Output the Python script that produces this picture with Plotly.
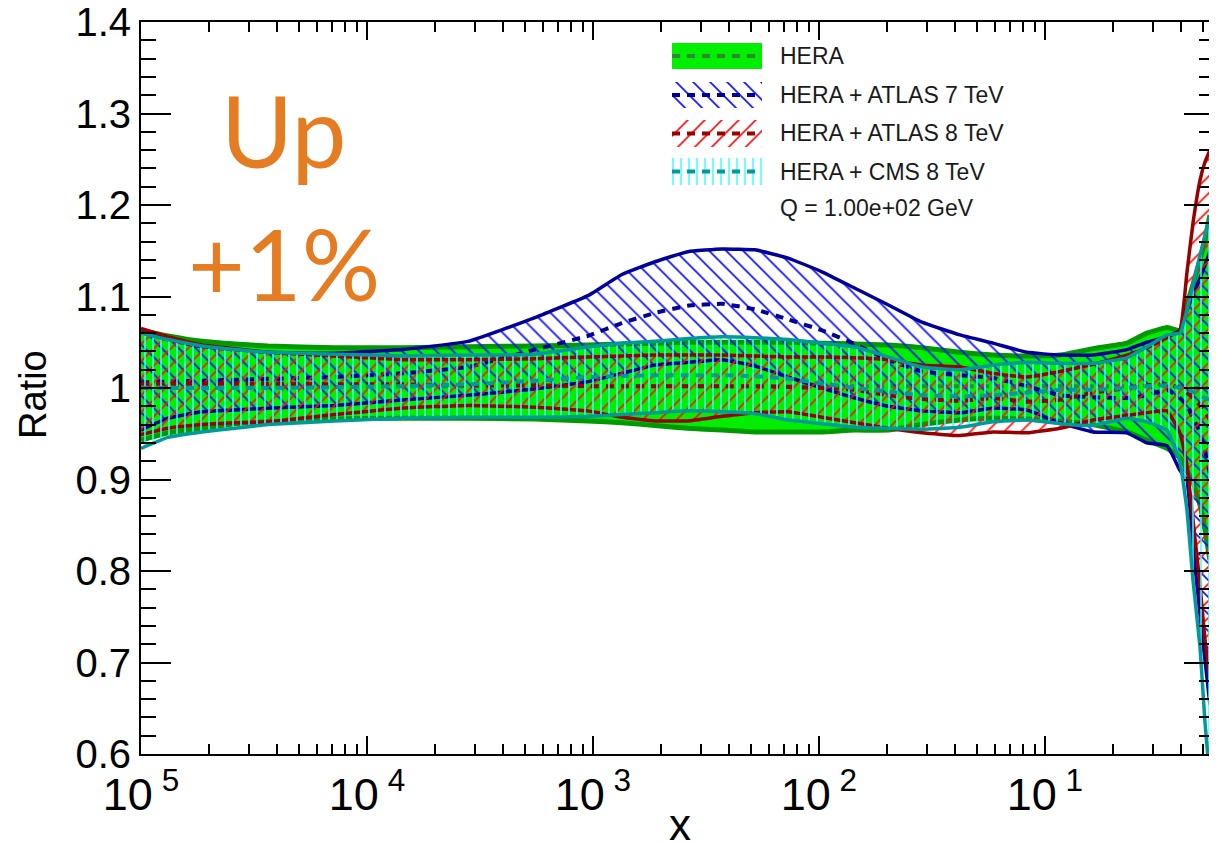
import plotly.graph_objects as go

# ---------------- data ----------------
x_vals = [1.0e-5, 1.316e-5, 1.862e-5, 2.606e-5, 3.648e-5, 7.21e-5, 1.428e-4, 2.80e-4, 5.54e-4,
          9.50e-4, 1.343e-3, 1.879e-3, 2.630e-3, 3.72e-3, 5.21e-3, 7.30e-3, 1.031e-2, 1.443e-2,
          2.02e-2, 2.855e-2, 4.21e-2, 5.89e-2, 8.32e-2, 0.1165, 0.1631, 0.2306, 0.2826, 0.3467,
          0.3956, 0.4248, 0.4518, 0.4853, 0.5105, 0.537]

hera_hi = [1.063, 1.057, 1.051, 1.048, 1.046, 1.044, 1.044, 1.045, 1.046, 1.047, 1.048, 1.049,
           1.050, 1.050, 1.050, 1.050, 1.049, 1.048, 1.047, 1.044, 1.039, 1.036, 1.035, 1.036,
           1.043, 1.049, 1.060, 1.066, 1.063, 1.091, 1.113, 1.140, 1.162, 1.189]
hera_c = [1.003, 1.003, 1.003, 1.002, 1.002, 1.002, 1.002, 1.002, 1.002, 1.002, 1.002, 1.002,
          1.002, 1.002, 1.002, 1.002, 1.002, 1.002, 1.002, 1.002, 1.002, 1.002, 1.002, 1.002,
          1.002, 1.002, 1.002, 1.002, 1.002, 1.001, 1.000, 1.000, 1.000, 1.000]
hera_lo = [0.943, 0.951, 0.956, 0.961, 0.963, 0.966, 0.967, 0.967, 0.966, 0.964, 0.962, 0.959,
           0.956, 0.954, 0.952, 0.952, 0.952, 0.954, 0.954, 0.960, 0.965, 0.967, 0.966, 0.964,
           0.960, 0.952, 0.943, 0.934, 0.924, 0.910, 0.897, 0.872, 0.845, 0.812]

atlas7_hi = [1.061, 1.053, 1.045, 1.042, 1.039, 1.038, 1.042, 1.051, 1.077, 1.101, 1.124, 1.138,
             1.149, 1.152, 1.151, 1.142, 1.127, 1.109, 1.091, 1.072, 1.058, 1.049, 1.039, 1.036,
             1.036, 1.042, 1.050, 1.056, 1.063, 1.085, 1.102, 1.120, 1.134, 1.149]
atlas7_c = [1.006, 1.007, 1.008, 1.009, 1.010, 1.012, 1.016, 1.023, 1.042, 1.057, 1.071, 1.082,
            1.090, 1.092, 1.086, 1.075, 1.063, 1.048, 1.031, 1.018, 1.014, 1.011, 1.002, 0.992,
            0.990, 0.989, 0.992, 0.998, 0.989, 0.981, 0.967, 0.952, 0.932, 0.905]
atlas7_lo = [0.954, 0.967, 0.974, 0.976, 0.978, 0.981, 0.987, 0.992, 0.999, 1.007, 1.016, 1.025,
             1.028, 1.031, 1.024, 1.012, 1.000, 0.989, 0.980, 0.975, 0.973, 0.978, 0.976, 0.962,
             0.952, 0.951, 0.940, 0.937, 0.910, 0.899, 0.828, 0.752, 0.703, 0.654]

atlas8_hi = [1.065, 1.056, 1.047, 1.043, 1.039, 1.035, 1.031, 1.031, 1.032, 1.034, 1.035, 1.036,
             1.036, 1.036, 1.035, 1.034, 1.034, 1.033, 1.031, 1.025, 1.023, 1.016, 1.012, 1.018,
             1.026, 1.036, 1.044, 1.055, 1.063, 1.126, 1.180, 1.227, 1.247, 1.260]
atlas8_c = [1.005, 1.005, 1.005, 1.005, 1.005, 1.004, 1.004, 1.003, 1.003, 1.002, 1.002, 1.002,
            1.002, 1.002, 1.002, 1.001, 1.000, 0.998, 0.992, 0.988, 0.986, 0.989, 0.985, 0.987,
            0.995, 1.000, 1.003, 1.004, 1.000, 0.995, 0.989, 0.981, 0.974, 0.965]
atlas8_lo = [0.949, 0.956, 0.960, 0.962, 0.963, 0.971, 0.978, 0.981, 0.979, 0.975, 0.968, 0.964,
             0.964, 0.969, 0.973, 0.974, 0.968, 0.962, 0.956, 0.951, 0.948, 0.952, 0.951, 0.956,
             0.965, 0.970, 0.973, 0.975, 0.951, 0.916, 0.856, 0.785, 0.725, 0.681]

cms8_hi = [1.060, 1.053, 1.046, 1.042, 1.039, 1.037, 1.035, 1.036, 1.037, 1.045, 1.049, 1.051,
           1.054, 1.056, 1.055, 1.053, 1.049, 1.045, 1.034, 1.023, 1.020, 1.025, 1.028, 1.027,
           1.027, 1.033, 1.045, 1.058, 1.060, 1.085, 1.113, 1.145, 1.167, 1.186]
cms8_c = [1.000, 1.000, 1.000, 1.000, 1.000, 1.001, 1.002, 1.004, 1.008, 1.012, 1.013, 1.014,
          1.014, 1.014, 1.013, 1.010, 1.005, 1.000, 0.996, 0.992, 0.991, 0.992, 0.995, 0.998,
          0.998, 1.000, 1.002, 1.003, 1.000, 0.998, 0.996, 0.992, 0.989, 0.987]
cms8_lo = [0.934, 0.946, 0.952, 0.956, 0.960, 0.964, 0.967, 0.968, 0.968, 0.969, 0.971, 0.973,
           0.975, 0.974, 0.972, 0.965, 0.961, 0.957, 0.956, 0.955, 0.957, 0.963, 0.965, 0.961,
           0.959, 0.967, 0.963, 0.954, 0.919, 0.867, 0.790, 0.717, 0.635, 0.570]

series_names = ["HERA", "HERA + ATLAS 7 TeV", "HERA + ATLAS 8 TeV", "HERA + CMS 8 TeV"]
x_tickvals = [1e-5, 1e-4, 1e-3, 1e-2, 1e-1]
x_ticktext = ["10<sup> 5</sup>", "10<sup> 4</sup>", "10<sup> 3</sup>", "10<sup> 2</sup>", "10<sup> 1</sup>"]
q_label = "Q = 1.00e+02 GeV"

# ---------------- styles ----------------
FONT = "Liberation Sans, Arial, Helvetica, sans-serif"
styles = [
    dict(edge="#009a00", lw=5, cdash="#2f8a2f", fill=dict(fillcolor="#00ee00")),
    dict(edge="#000099", lw=3.5, cdash="#000099",
         fill=dict(fillcolor="rgba(0,0,0,0)",
                   fillpattern=dict(shape="\\", fgcolor="#1010ff", bgcolor="rgba(0,0,0,0)",
                                    fgopacity=1, size=12, solidity=0.14))),
    dict(edge="#990000", lw=3.5, cdash="#990000",
         fill=dict(fillcolor="rgba(0,0,0,0)",
                   fillpattern=dict(shape="/", fgcolor="#ff1010", bgcolor="rgba(0,0,0,0)",
                                    fgopacity=1, size=12, solidity=0.14))),
    dict(edge="#009a9a", lw=3.5, cdash="#009a9a",
         fill=dict(fillcolor="rgba(0,0,0,0)",
                   fillpattern=dict(shape="|", fgcolor="#40ffff", bgcolor="rgba(0,0,0,0)",
                                    fgopacity=1, size=8, solidity=0.19))),
]
data_sets = [(hera_lo, hera_c, hera_hi), (atlas7_lo, atlas7_c, atlas7_hi),
             (atlas8_lo, atlas8_c, atlas8_hi), (cms8_lo, cms8_c, cms8_hi)]

SMOOTH = 0.35
fig = go.Figure()
for name, (lo, c, hi), st in zip(series_names, data_sets, styles):
    fig.add_trace(go.Scatter(x=x_vals, y=lo, mode="lines", name=name, showlegend=False,
                             line=dict(color=st["edge"], width=st["lw"], shape="spline",
                                       smoothing=SMOOTH), hoverinfo="skip"))
    fig.add_trace(go.Scatter(x=x_vals, y=hi, mode="lines", name=name, showlegend=False,
                             fill="tonexty", line=dict(color=st["edge"], width=st["lw"],
                                                       shape="spline", smoothing=SMOOTH),
                             hoverinfo="skip", **st["fill"]))
    fig.add_trace(go.Scatter(x=x_vals, y=c, mode="lines", name=name, showlegend=False,
                             line=dict(color=st["cdash"], width=4, dash="8px,7px",
                                       shape="spline", smoothing=SMOOTH),
                             hoverinfo="skip"))

# ---------------- page geometry (page body has an 8px margin) ----------------
OFF = 8
W, H = 1217 - OFF, 843 - OFF
PX_L, PX_R, PX_T, PX_B = 141 - OFF, 1214 - OFF, 22 - OFF, 754 - OFF


def px_x(p):
    return (p - OFF - PX_L) / (PX_R - PX_L)


def px_y(p):
    return (PX_B - (p - OFF)) / (PX_B - PX_T)


# ---------------- legend drawn in pixel space on hidden overlay axes ----------------
sw_x0, sw_x1 = 672 - OFF, 762 - OFF
sw_rows = [(43, 69), (82, 108), (120, 147), (158, 185)]
for (y0, y1), st in zip(sw_rows, styles):
    y0, y1 = y0 - OFF, y1 - OFF
    fig.add_trace(go.Scatter(x=[sw_x0, sw_x1, sw_x1, sw_x0, sw_x0], y=[y0, y0, y1, y1, y0],
                             xaxis="x2", yaxis="y2", mode="lines", fill="toself",
                             line=dict(width=0, color="rgba(0,0,0,0)"), showlegend=False,
                             hoverinfo="skip", **st["fill"]))
    ym = (y0 + y1) / 2
    fig.add_trace(go.Scatter(x=[sw_x0, sw_x1], y=[ym, ym], xaxis="x2", yaxis="y2", mode="lines",
                             line=dict(color=st["cdash"], width=4, dash="8px,7px"),
                             showlegend=False, hoverinfo="skip"))

ann = []
leg_text_y = [56, 95, 133, 172, 208]
for txt, py in zip(series_names + [q_label], leg_text_y):
    ann.append(dict(text=txt, xref="paper", yref="paper", x=px_x(778), y=px_y(py),
                    xanchor="left", yanchor="middle",
                    showarrow=False, font=dict(family=FONT, size=23, color="#1a1a1a")))

# "Up +1%" label
for txt, py in [("Up", 130), ("+1%", 263)]:
    ann.append(dict(text=txt, xref="paper", yref="paper", x=px_x(284), y=px_y(py),
                    xanchor="center", yanchor="middle",
                    showarrow=False, font=dict(family="Lato, Open Sans, sans-serif", size=98,
                                               color="#e57c22")))
# axis titles
ann.append(dict(text="x", xref="paper", yref="paper", x=px_x(680), y=px_y(824),
                xanchor="center", yanchor="middle",
                showarrow=False, font=dict(family=FONT, size=44, color="black")))
ann.append(dict(text="Ratio", xref="paper", yref="paper", x=px_x(33), y=px_y(395),
                xanchor="center", yanchor="middle",
                textangle=-90, showarrow=False, font=dict(family=FONT, size=38, color="black")))

minor_x = [m * 10.0 ** e for e in range(-5, 0) for m in range(2, 10)]

fig.update_layout(
    width=W, height=H, autosize=False,
    margin=dict(l=PX_L, r=W - PX_R, t=PX_T, b=H - PX_B, autoexpand=False),
    paper_bgcolor="white", plot_bgcolor="white",
    showlegend=False,
    annotations=ann,
    xaxis=dict(type="log", range=[-5, -0.252], tickvals=x_tickvals, ticktext=x_ticktext,
               automargin=False, ticklabeloverflow="allow",
               ticks="inside", ticklen=18, tickwidth=1.5, tickcolor="black",
               showline=True, linecolor="black", linewidth=2, mirror="ticks",
               showgrid=False, zeroline=False,
               tickfont=dict(family=FONT, size=45, color="black"),
               minor=dict(tickvals=minor_x, ticks="inside", ticklen=10, tickwidth=1.5,
                          tickcolor="black", showgrid=False)),
    yaxis=dict(range=[0.6, 1.4], tick0=0.6, dtick=0.1, automargin=False,
               ticklabeloverflow="allow",
               ticks="inside", ticklen=30, tickwidth=1.5, tickcolor="black",
               showline=True, linecolor="black", linewidth=2, mirror="ticks",
               showgrid=False, zeroline=False,
               tickfont=dict(family=FONT, size=40, color="black"),
               minor=dict(dtick=0.02, ticks="inside", ticklen=15, tickwidth=1.5,
                          tickcolor="black", showgrid=False)),
    xaxis2=dict(range=[PX_L, PX_R], overlaying="x", anchor="y2", visible=False,
                automargin=False),
    yaxis2=dict(range=[PX_B, PX_T], overlaying="y", anchor="x2", visible=False,
                automargin=False),
)

fig.write_html("out.html")
